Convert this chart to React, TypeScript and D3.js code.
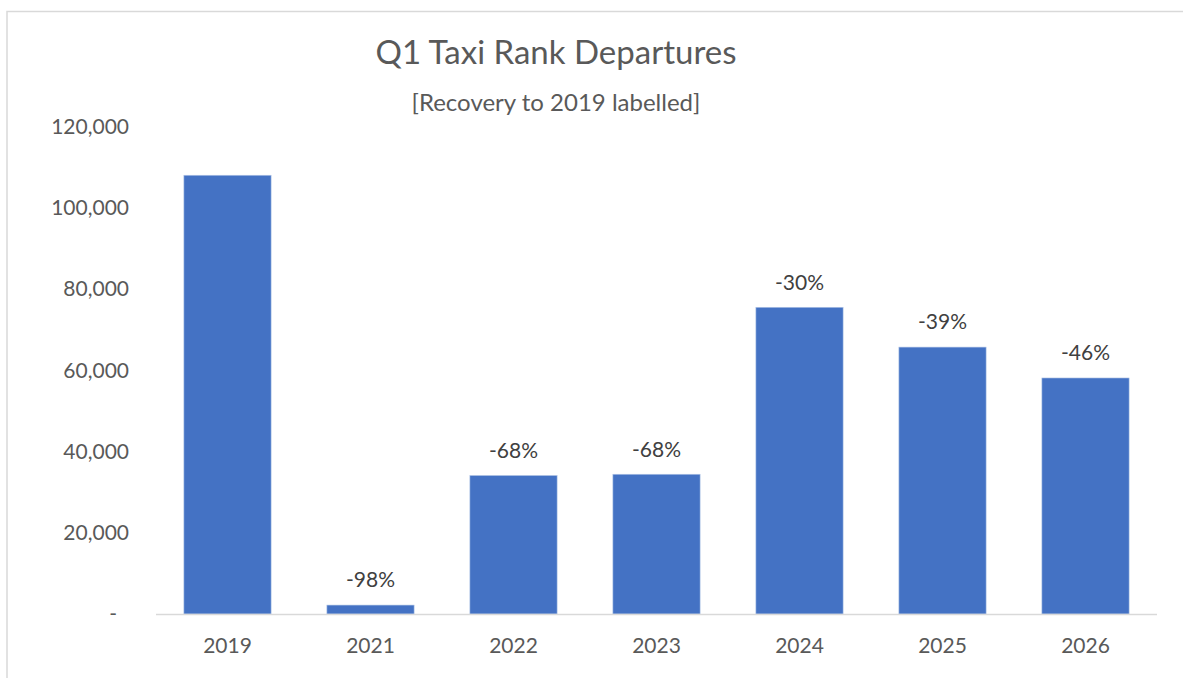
import React, { useEffect, useRef } from "react";
import * as d3 from "d3";

// chart data
const years = ["2019", "2021", "2022", "2023", "2024", "2025", "2026"];
const departures = [108000, 2200, 34100, 34400, 75500, 65700, 58100];
const recoveryLabels = ["", "-98%", "-68%", "-68%", "-30%", "-39%", "-46%"];
const yTicks = [0, 20000, 40000, 60000, 80000, 100000, 120000];

const W = 1183;
const H = 678;
const FONT = "Lato, 'Open Sans', sans-serif";
const TEXT = "#595959";

export default function App() {
  const svgRef = useRef<SVGSVGElement>(null);

  useEffect(() => {
    const svg = d3.select(svgRef.current);
    svg.selectAll("*").remove();

    // chart frame
    svg.append("rect")
      .attr("x", 7).attr("y", 11.5)
      .attr("width", W).attr("height", H)
      .attr("fill", "#fff")
      .attr("stroke", "#d9d9d9")
      .attr("stroke-width", 1.5);

    const x = d3.scaleBand<string>()
      .domain(years)
      .range([156, 1157])
      .paddingInner(0.39)
      .paddingOuter(0.195);

    const y = d3.scaleLinear().domain([0, 120000]).range([614, 126.5]);

    // title
    svg.append("text")
      .attr("x", 556).attr("y", 64)
      .attr("text-anchor", "middle")
      .attr("font-family", FONT)
      .attr("font-size", 33)
      .attr("fill", TEXT)
      .text("Q1 Taxi Rank Departures");

    svg.append("text")
      .attr("x", 556).attr("y", 111)
      .attr("text-anchor", "middle")
      .attr("font-family", FONT)
      .attr("font-size", 24)
      .attr("fill", TEXT)
      .text("[Recovery to 2019 labelled]");

    // y axis labels (no line, no gridlines)
    const fmt = d3.format(",");
    svg.append("g")
      .selectAll("text")
      .data(yTicks)
      .join("text")
      .attr("x", (d) => (d === 0 ? 117 : 129))
      .attr("y", (d) => y(d))
      .attr("dy", "0.35em")
      .attr("text-anchor", "end")
      .attr("font-family", FONT)
      .attr("font-size", 21)
      .attr("fill", TEXT)
      .text((d) => (d === 0 ? "-" : fmt(d)));

    // bars
    svg.append("g")
      .selectAll("rect")
      .data(departures)
      .join("rect")
      .attr("x", (_, i) => x(years[i])!)
      .attr("y", (d) => y(d))
      .attr("width", x.bandwidth())
      .attr("height", (d) => y(0) - y(d))
      .attr("fill", "#4472c4")
      .attr("stroke", "#b4c7e7")
      .attr("stroke-width", 0.6);

    // category axis line
    svg.append("line")
      .attr("x1", 156).attr("x2", 1157)
      .attr("y1", y(0) + 0.5).attr("y2", y(0) + 0.5)
      .attr("stroke", "#d9d9d9")
      .attr("stroke-width", 1.5);

    // x labels
    svg.append("g")
      .selectAll("text")
      .data(years)
      .join("text")
      .attr("x", (d) => x(d)! + x.bandwidth() / 2)
      .attr("y", 646)
      .attr("dy", "0.35em")
      .attr("text-anchor", "middle")
      .attr("font-family", FONT)
      .attr("font-size", 21)
      .attr("fill", TEXT)
      .text((d) => d);

    // recovery labels above bars
    svg.append("g")
      .selectAll("text")
      .data(departures)
      .join("text")
      .attr("x", (_, i) => x(years[i])! + x.bandwidth() / 2)
      .attr("y", (d) => y(d) - 25)
      .attr("dy", "0.35em")
      .attr("text-anchor", "middle")
      .attr("font-family", FONT)
      .attr("font-size", 21)
      .attr("fill", "#404040")
      .text((_, i) => recoveryLabels[i]);
  }, []);

  return (
    <svg
      ref={svgRef}
      width={W}
      height={H}
      style={{ position: "absolute", left: 0, top: 0, background: "#fff" }}
    />
  );
}
